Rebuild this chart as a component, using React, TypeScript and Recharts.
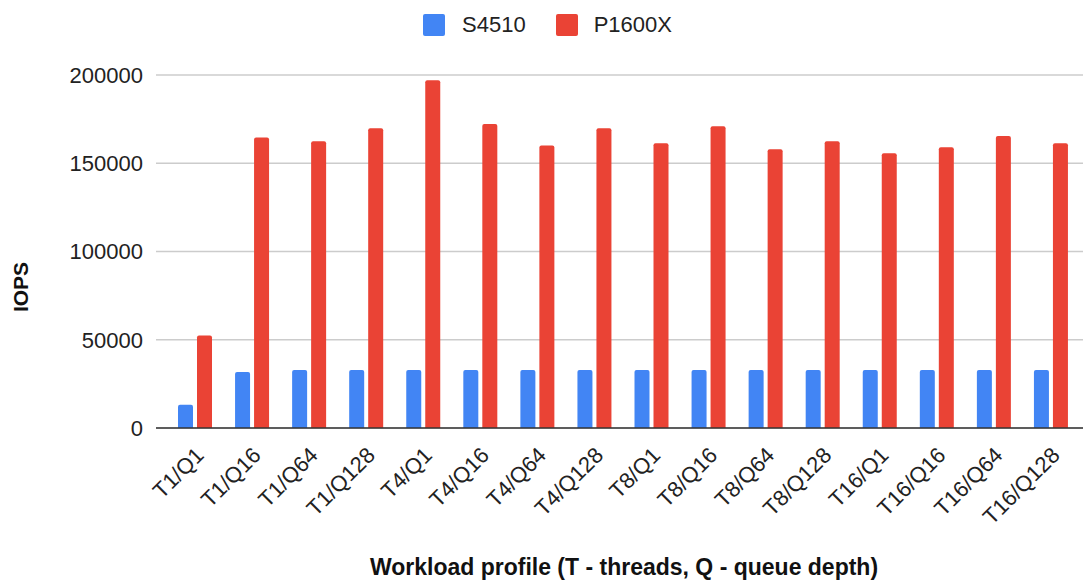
import React from 'react';
import { BarChart, Bar, XAxis, YAxis, CartesianGrid, Legend, Label } from 'recharts';

const categories = ['T1/Q1', 'T1/Q16', 'T1/Q64', 'T1/Q128', 'T4/Q1', 'T4/Q16', 'T4/Q64', 'T4/Q128', 'T8/Q1', 'T8/Q16', 'T8/Q64', 'T8/Q128', 'T16/Q1', 'T16/Q16', 'T16/Q64', 'T16/Q128'];
const s4510 = [13200, 31700, 32800, 32800, 32800, 32800, 32800, 32800, 32800, 32800, 32800, 32800, 32800, 32800, 32800, 32800];
const p1600x = [52400, 164600, 162500, 169900, 197000, 172300, 160000, 169900, 161400, 171000, 158000, 162500, 155700, 159100, 165500, 161400];
const yTicks = [0, 50000, 100000, 150000, 200000];

const BLUE = '#4285F4';
const RED = '#EA4335';
const FONT = "Arial, 'Liberation Sans', sans-serif";

const data = categories.map((c, i) => ({ name: c, S4510: s4510[i], P1600X: p1600x[i] }));

const XTick = (props: any) => {
  const { x, y, payload } = props;
  return (
    <g transform={`translate(${x},${y + 16})`}>
      <text x={0} y={0} dy={15} textAnchor="end" transform="rotate(-45)" fontSize={22} fontFamily={FONT} fill="#222">
        {payload.value}
      </text>
    </g>
  );
};

const LegendContent = () => (
  <div style={{ display: 'flex', alignItems: 'center', marginLeft: 423, fontFamily: FONT, fontSize: 22, color: '#222' }}>
    <span style={{ display: 'inline-block', width: 22, height: 22, background: BLUE, borderRadius: 2 }} />
    <span style={{ marginLeft: 17 }}>S4510</span>
    <span style={{ display: 'inline-block', width: 22, height: 22, background: RED, borderRadius: 2, marginLeft: 30 }} />
    <span style={{ marginLeft: 16 }}>P1600X</span>
  </div>
);

export default function App() {
  return (
    <div style={{ position: 'absolute', left: 0, top: 0, background: '#fff' }}>
      <BarChart width={1083} height={583} data={data} margin={{ top: 75, right: 0, bottom: 5, left: 0 }} barSize={15} barGap={4}>
        <CartesianGrid vertical={false} stroke="#ccc" strokeWidth={1.5} />
        <XAxis
          dataKey="name"
          height={150}
          interval={0}
          tick={<XTick />}
          tickLine={false}
          tickSize={0}
          axisLine={{ stroke: '#333', strokeWidth: 1.5 }}
          padding={{ left: 10, right: 4 }}
        >
          <Label
            content={() => (
              <text x={624} y={575} textAnchor="middle" fontSize={23} fontWeight="bold" fontFamily={FONT} fill="#111">
                Workload profile (T - threads, Q - queue depth)
              </text>
            )}
          />
        </XAxis>
        <YAxis
          width={156}
          domain={[0, 200000]}
          ticks={yTicks}
          axisLine={false}
          tickLine={false}
          tickSize={0}
          tickMargin={13}
          tick={{ fontSize: 22, fontFamily: FONT, fill: '#222' }}
        >
          <Label
            content={() => (
              <text x={28} y={287} textAnchor="middle" transform="rotate(-90 28 287)" fontSize={21} fontWeight="bold" fontFamily={FONT} fill="#111">
                IOPS
              </text>
            )}
          />
        </YAxis>
        <Legend verticalAlign="middle" align="center" layout="horizontal" content={<LegendContent />} wrapperStyle={{ top: 12, left: 0, width: 1083 }} />
        <Bar dataKey="S4510" fill={BLUE} radius={[2, 2, 0, 0]} isAnimationActive={false} />
        <Bar dataKey="P1600X" fill={RED} radius={[2, 2, 0, 0]} isAnimationActive={false} />
      </BarChart>
    </div>
  );
}
